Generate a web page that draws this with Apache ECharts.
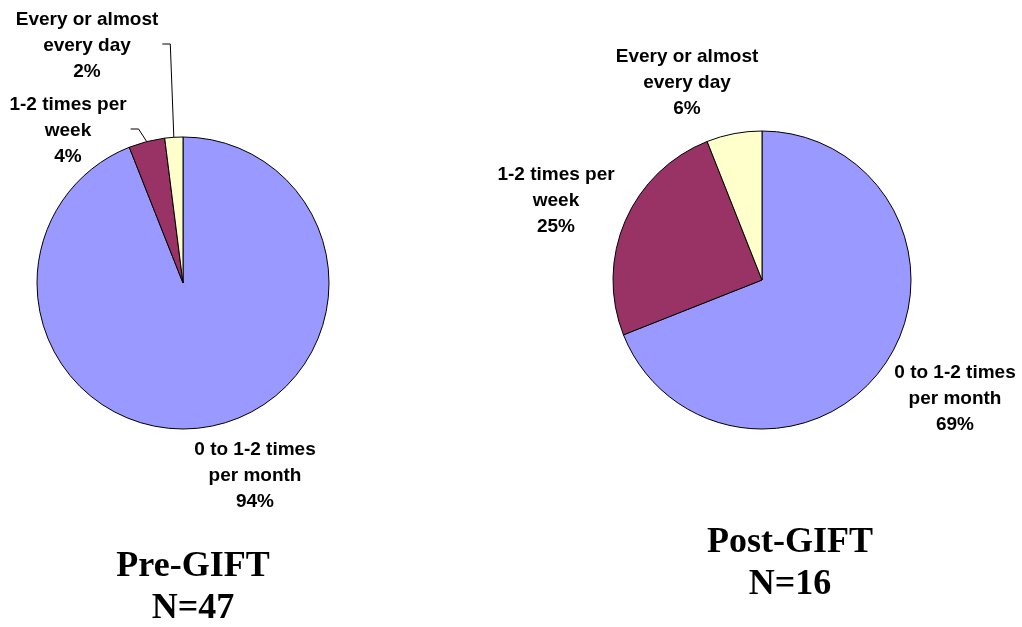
<!DOCTYPE html>
<html>
<head>
<meta charset="utf-8">
<script src="https://cdn.jsdelivr.net/npm/echarts@6/dist/echarts.min.js"></script>
<style>
  html, body { margin: 0; padding: 0; background: #fff; }
  #chart { width: 1022px; height: 627px; }
</style>
</head>
<body>
<div id="chart"></div>
<script>
// categories (line breaks as in the slide labels)
const categories = ["0 to 1-2 times\nper month", "1-2 times per\nweek", "Every or almost\nevery day"];
const preValues = [94, 4, 2];   // Pre-GIFT, N=47
const postValues = [69, 25, 6]; // Post-GIFT, N=16
const preTitle = "Pre-GIFT\nN=47";
const postTitle = "Post-GIFT\nN=16";

const colors = ["#9999FF", "#993366", "#FFFFCC"];

// label block centres [x, y]
const preLabelPos = [[255, 476], [68, 131], [87, 46]];
const postLabelPos = [[955, 399], [556, 201], [687, 83]];
// which slices get a leader line
const preLines = [false, true, true];
const postLines = [false, false, false];

const chart = echarts.init(document.getElementById("chart"));

function makeLayout(pos, lines) {
  return function (params) {
    const p = pos[params.dataIndex];
    const w = params.labelRect.width;
    const out = { x: p[0], y: p[1], align: "center", verticalAlign: "middle" };
    if (lines[params.dataIndex] && params.labelLinePoints) {
      const edge = params.labelLinePoints[0];
      const rx = p[0] + w / 2 + 4;
      out.labelLinePoints = [[rx, p[1] - 2], [rx + 8, p[1] - 2], edge];
    }
    return out;
  };
}

function makeSeries(values, lines, center, radius, pos) {
  return {
    type: "pie",
    center: center,
    radius: radius,
    startAngle: 90,
    clockwise: true,
    avoidLabelOverlap: false,
    animation: false,
    silent: true,
    itemStyle: { borderColor: "#000", borderWidth: 1 },
    label: {
      show: true,
      position: "outside",
      formatter: "{b}\n{c}%",
      fontFamily: "Liberation Sans, Arial, sans-serif",
      fontWeight: "bold",
      fontSize: 19,
      lineHeight: 26,
      color: "#000",
      align: "center"
    },
    labelLine: { show: true, lineStyle: { color: "#000", width: 1 } },
    labelLayout: makeLayout(pos, lines),
    data: categories.map((c, i) => ({
      name: c,
      value: values[i],
      itemStyle: { color: colors[i] },
      labelLine: { show: lines[i] }
    }))
  };
}

const titleFont = "bold 36px 'Liberation Serif', 'Times New Roman', serif";

const option = {
  backgroundColor: "#fff",
  series: [
    makeSeries(preValues, preLines, [183, 283], 146, preLabelPos),
    makeSeries(postValues, postLines, [762, 280], 149, postLabelPos)
  ],
  graphic: [
    {
      type: "text",
      x: 193,
      y: 546,
      silent: true,
      style: { text: preTitle, font: titleFont, lineHeight: 42, align: "center", verticalAlign: "top", fill: "#000" }
    },
    {
      type: "text",
      x: 790,
      y: 522,
      silent: true,
      style: { text: postTitle, font: titleFont, lineHeight: 42, align: "center", verticalAlign: "top", fill: "#000" }
    }
  ]
};

chart.setOption(option);
</script>
</body>
</html>
